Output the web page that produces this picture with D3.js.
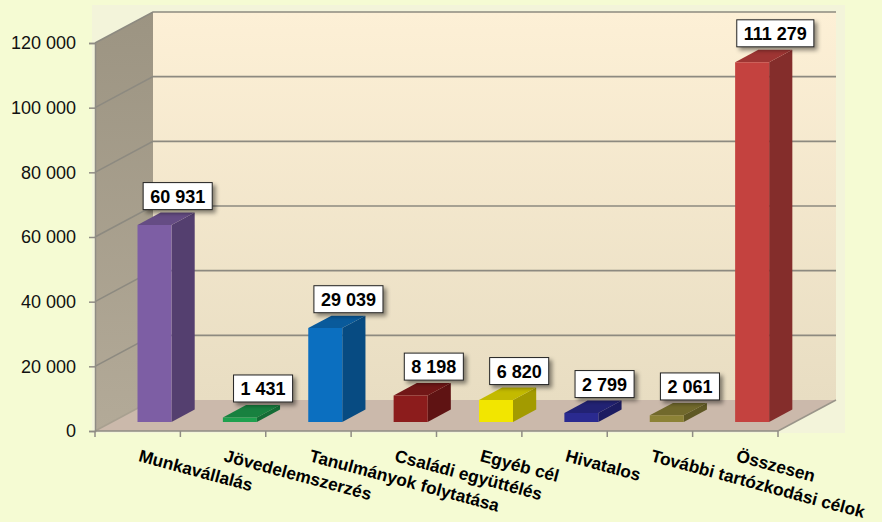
<!DOCTYPE html>
<html>
<head>
<meta charset="utf-8">
<script src="https://cdn.jsdelivr.net/npm/d3@7"></script>
<style>
  html, body { margin: 0; padding: 0; background: #f5fbd3; }
  svg { display: block; }
</style>
</head>
<body>
<svg id="chart" width="882" height="522"></svg>
<script>
// data
var categories = ["Munkavállalás", "Jövedelemszerzés", "Tanulmányok folytatása", "Családi együttélés",
                  "Egyéb cél", "Hivatalos", "További tartózkodási célok", "Összesen"];
var values = [60931, 1431, 29039, 8198, 6820, 2799, 2061, 111279];
var yTicks = [0, 20000, 40000, 60000, 80000, 100000, 120000];
var barColors = ["#7d5ea4", "#1ea04e", "#0b6fc0", "#8c1c1c", "#f2e600", "#2a2a90", "#8c8236", "#c4423f"];

var svg = d3.select("#chart");

// space-separated thousands
var fmt = d3.formatLocale({ thousands: " ", grouping: [3], decimal: ",", currency: ["", ""] }).format(",d");

// front plane scales, depth offset for 3D
var x = d3.scaleBand().domain(categories).range([95, 778]).padding(0);
var y = d3.scaleLinear().domain([0, 120000]).range([431, 43]);
var DX = 58, DY = -31;
var proj = function (px, py, d) { return [px + d * DX, py + d * DY]; };

var defs = svg.append("defs");
var wall = defs.append("linearGradient").attr("id", "wall").attr("x1", 0).attr("y1", 0).attr("x2", 0).attr("y2", 1);
wall.append("stop").attr("offset", "0%").attr("stop-color", "#fdf0d6");
wall.append("stop").attr("offset", "100%").attr("stop-color", "#e8ddc2");
var side = defs.append("linearGradient").attr("id", "side").attr("x1", 0).attr("y1", 0).attr("x2", 0).attr("y2", 1);
side.append("stop").attr("offset", "0%").attr("stop-color", "#9c9482");
side.append("stop").attr("offset", "100%").attr("stop-color", "#b3aa98");
var sh = defs.append("filter").attr("id", "shadow").attr("x", "-20%").attr("y", "-20%").attr("width", "150%").attr("height", "160%");
sh.append("feDropShadow").attr("dx", 3).attr("dy", 3).attr("stdDeviation", 2)
  .attr("flood-color", "#000").attr("flood-opacity", 0.45);

// plot area
svg.append("rect").attr("x", 92).attr("y", 5).attr("width", 753).attr("height", 428).attr("fill", "#f3f4da");

var x0 = x.range()[0], x1 = x.range()[1];
var yTop = y(120000), yBot = y(0);
var poly = function (pts) { return "M" + pts.map(function (p) { return p.join(","); }).join("L") + "Z"; };

// side wall, back wall, floor
svg.append("path").attr("d", poly([[x0, yTop], proj(x0, yTop, 1), proj(x0, yBot, 1), [x0, yBot]]))
  .attr("fill", "url(#side)");
svg.append("path").attr("d", poly([proj(x0, yTop, 1), proj(x1, yTop, 1), proj(x1, yBot, 1), proj(x0, yBot, 1)]))
  .attr("fill", "url(#wall)");
svg.append("path").attr("d", poly([[x0, yBot], proj(x0, yBot, 1), proj(x1, yBot, 1), [x1, yBot]]))
  .attr("fill", "#cbb9ab");

// gridlines on side and back wall
var grid = svg.append("g").attr("stroke", "#8d8a80").attr("stroke-width", 1.6).attr("fill", "none");
yTicks.filter(function (t) { return t > 0; }).forEach(function (t) {
  var a = [x0, y(t)], b = proj(x0, y(t), 1), c = proj(x1, y(t), 1);
  grid.append("path").attr("d", "M" + a + "L" + b + "L" + c);
});
grid.append("path").attr("d", "M" + [x0, yBot] + "L" + proj(x0, yBot, 1))
  .attr("stroke", "#a8a090");

// floor edge to the right
svg.append("path").attr("d", "M" + [x1, yBot] + "L" + proj(x1, yBot, 1))
  .attr("stroke", "#9a958a").attr("stroke-width", 1.5).attr("fill", "none");

// y axis
var yAxis = d3.axisLeft(y).tickValues(yTicks).tickFormat(fmt).tickSize(6).tickPadding(13);
var gy = svg.append("g").attr("transform", "translate(" + x0 + ",0)").call(yAxis);
gy.select(".domain").attr("stroke", "#8f8c84").attr("stroke-width", 1.5);
gy.selectAll(".tick line").attr("stroke", "#8f8c84").attr("stroke-width", 1.5);
gy.selectAll(".tick text").attr("fill", "#111").attr("font-family", "Liberation Sans, Arial, sans-serif")
  .attr("font-size", 18);

// x axis line and ticks at band boundaries
var gx = svg.append("g").attr("stroke", "#8f8c84").attr("stroke-width", 1.5);
gx.append("line").attr("x1", x0).attr("x2", x1).attr("y1", yBot).attr("y2", yBot);
d3.range(categories.length + 1).forEach(function (i) {
  var px = x0 + i * x.step();
  gx.append("line").attr("x1", px).attr("x2", px).attr("y1", yBot).attr("y2", yBot + 6);
});

// bars
var dF = 0.29, dB = 0.69, barW = 34;
var bars = svg.append("g").selectAll("g").data(values).join("g");
bars.each(function (v, i) {
  var g = d3.select(this);
  var c = x(categories[i]) + x.bandwidth() / 2;
  var l = c - barW / 2, r = c + barW / 2;
  var col = d3.color(barColors[i]);
  var fb = proj(l, y(0), dF), ft = proj(l, y(v), dF);
  var fbr = proj(r, y(0), dF), ftr = proj(r, y(v), dF);
  var bbr = proj(r, y(0), dB), btr = proj(r, y(v), dB), btl = proj(l, y(v), dB);
  g.append("path").attr("d", poly([fbr, ftr, btr, bbr])).attr("fill", col.darker(1.1));
  g.append("path").attr("d", poly([ft, btl, btr, ftr])).attr("fill", col.darker(0.6));
  g.append("path").attr("d", poly([fb, ft, ftr, fbr])).attr("fill", col);
});

// data labels
var labels = svg.append("g").selectAll("g").data(values).join("g")
  .attr("transform", function (v, i) {
    var c = x(categories[i]) + x.bandwidth() / 2;
    var p = proj(c, y(v), dB);
    return "translate(" + (c + 40) + "," + (p[1] - 3) + ")";
  });
labels.each(function (v) {
  var g = d3.select(this);
  var t = g.append("text").text(fmt(v)).attr("text-anchor", "middle").attr("y", -7)
    .attr("font-family", "Liberation Sans, Arial, sans-serif").attr("font-weight", "bold")
    .attr("font-size", 18).attr("fill", "#000");
  var w = t.node().getComputedTextLength() + 14;
  g.insert("rect", "text").attr("x", -w / 2).attr("y", -27).attr("width", w).attr("height", 27)
    .attr("fill", "#fff").attr("stroke", "#222").attr("stroke-width", 1).attr("filter", "url(#shadow)");
});

// category labels
svg.append("g").selectAll("text").data(categories).join("text")
  .attr("transform", function (d) {
    return "translate(" + (x(d) + x.bandwidth() / 2) + ",461) rotate(15)";
  })
  .attr("font-family", "Liberation Sans, Arial, sans-serif").attr("font-weight", "bold")
  .attr("font-size", 17.3).attr("fill", "#000")
  .text(function (d) { return d; });
</script>
</body>
</html>
